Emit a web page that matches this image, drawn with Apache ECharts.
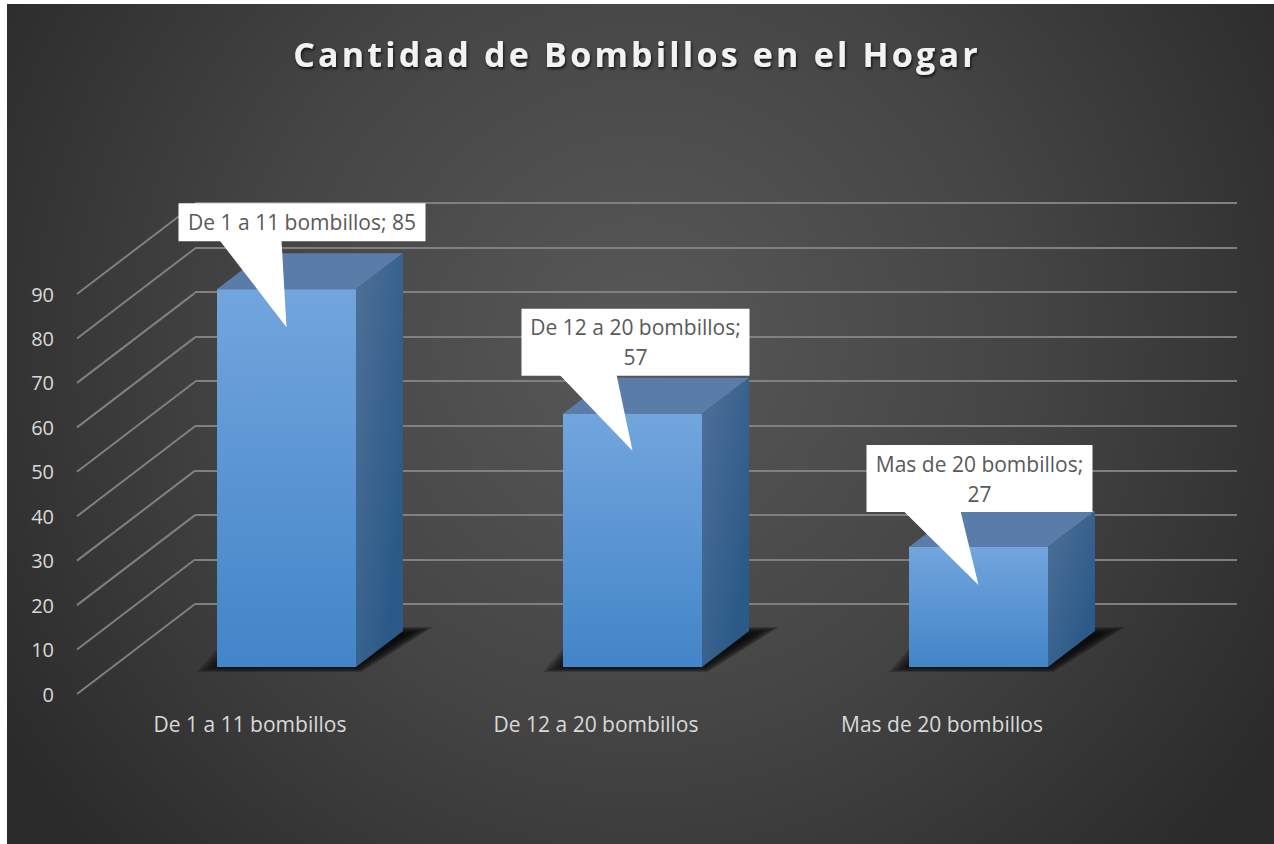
<!DOCTYPE html>
<html>
<head>
<meta charset="utf-8">
<title>Cantidad de Bombillos en el Hogar</title>
<script src="https://cdn.jsdelivr.net/npm/echarts@6/dist/echarts.min.js"></script>
<style>
  html, body { margin: 0; padding: 0; background: #fff; }
  #chart { width: 1274px; height: 844px; }
</style>
</head>
<body>
<div id="chart"></div>
<script>
const titleText = 'Cantidad de Bombillos en el Hogar'
const categories = ['De 1 a 11 bombillos', 'De 12 a 20 bombillos', 'Mas de 20 bombillos']
const values = [85, 57, 27]
const yTicks = [0, 10, 20, 30, 40, 50, 60, 70, 80, 90]

const FONT = '"Open Sans", sans-serif'
const FLOOR = { dx: 118, dy: -90 }     // frente -> pared del fondo
const BAR = { dx: 36.5, dy: -27, w: 139, depthX: 47, depthY: -36 }
// globos: caja y base de la punta, relativas a la punta
const CALLOUT = [
  { tipY: 38, l: -108, r: 139, t: -124, b: -86, p0: -67, p1: -5, wrap: false },
  { tipY: 37, l: -111, r: 117, t: -142, b: -75, p0: -73, p1: -16, wrap: true },
  { tipY: 38, l: -112, r: 114, t: -140, b: -73, p0: -75, p1: -18, wrap: true },
]

const vgrad = (a, b) => ({ type: 'linear', x: 0, y: 0, x2: 0, y2: 1, colorStops: [{ offset: 0, color: a }, { offset: 1, color: b }] })

function renderDiagonal(params, api) {
  const p = api.coord([0, api.value(0)])
  const x = params.coordSys.x
  return {
    type: 'line',
    shape: { x1: x, y1: p[1], x2: x + FLOOR.dx, y2: p[1] + FLOOR.dy },
    style: { stroke: '#808080', lineWidth: 2 },
  }
}

function renderBar(params, api) {
  const base = api.coord([api.value(0), 0])
  const top = api.coord([api.value(0), api.value(1)])
  const x0 = base[0] + BAR.dx - BAR.w / 2
  const x1 = x0 + BAR.w
  const y0 = base[1] + BAR.dy
  const y1 = top[1] + BAR.dy
  const dx = BAR.depthX
  const dy = BAR.depthY
  const poly = (points, style) => ({ type: 'polygon', shape: { points }, style })
  // sombra del suelo: capas translucidas para que el borde quede difuso
  const shadow = []
  for (let k = 0; k < 9; k++) {
    const s = 28 - k * 3.5
    const v = 5 - k * 0.9
    shadow.push(poly([[x0 - s + 8, y0 + v], [x1 + s * 0.2, y0 + v], [x1 + dx + s + 2, y0 + dy - v + 1], [x0 + dx - s, y0 + dy - v + 1]], {
      fill: 'rgba(10,10,10,0.24)',
    }))
  }
  return {
    type: 'group',
    children: shadow.concat([
      poly([[x0, y1], [x1, y1], [x1 + dx, y1 + dy], [x0 + dx, y1 + dy]], { fill: '#5a7ca8' }),
      poly([[x1, y1], [x1 + dx, y1 + dy], [x1 + dx, y0 + dy], [x1, y0]], {
        fill: { type: 'linear', x: 0, y: 0, x2: 1, y2: 1, colorStops: [{ offset: 0, color: '#4f7098' }, { offset: 0.8, color: '#2b5a88' }, { offset: 1, color: '#2b5a88' }] },
      }),
      poly([[x0, y1], [x1, y1], [x1, y0], [x0, y0]], { fill: vgrad('#72a5dd', '#4285c8') }),
    ]),
  }
}

function renderCallout(params, api) {
  const i = params.dataIndex
  const c = CALLOUT[i]
  const top = api.coord([api.value(0), api.value(1)])
  const tx = top[0] + BAR.dx
  const ty = top[1] + BAR.dy + c.tipY
  const label = categories[i] + ';' + (c.wrap ? '\n' : ' ') + values[i]
  return {
    type: 'group',
    children: [
      { type: 'rect', shape: { x: tx + c.l, y: ty + c.t, width: c.r - c.l, height: c.b - c.t }, style: { fill: '#fff' } },
      { type: 'polygon', shape: { points: [[tx + c.p0, ty + c.b - 1], [tx + c.p1, ty + c.b - 1], [tx, ty]] }, style: { fill: '#fff' } },
      {
        type: 'text',
        x: tx + (c.l + c.r) / 2,
        y: ty + (c.t + c.b) / 2,
        style: { text: label, fill: '#595959', font: '21px ' + FONT, align: 'center', verticalAlign: 'middle', lineHeight: 30 },
      },
    ],
  }
}

const chart = echarts.init(document.getElementById('chart'), null, { renderer: 'svg' })
chart.setOption({
  animation: false,
  graphic: [{
    type: 'rect',
    z: -10,
    shape: { x: 7, y: 4, width: 1267, height: 840 },
    style: {
      fill: {
        type: 'radial', x: 640, y: 340, r: 760, global: true,
        colorStops: [{ offset: 0, color: '#585858' }, { offset: 0.5, color: '#454545' }, { offset: 1, color: '#2a2a2a' }],
      },
    },
  }],
  title: {
    text: titleText,
    left: 'center',
    top: 32,
    textStyle: {
      color: '#f2f2f2', fontFamily: FONT, fontSize: 34, fontWeight: 'bold',
      textShadowColor: 'rgba(0,0,0,0.75)', textShadowBlur: 3, textShadowOffsetX: 1, textShadowOffsetY: 2,
    },
  },
  grid: [
    { left: 77, right: 159, top: 294, bottom: 150 },
    { left: 195, right: 37, top: 203, bottom: 240 },
  ],
  xAxis: [
    {
      type: 'category',
      gridIndex: 0,
      data: categories,
      axisLine: { show: false },
      axisTick: { show: false },
      axisLabel: { color: '#d9d9d9', fontFamily: FONT, fontSize: 21, margin: 19 },
    },
    { type: 'value', gridIndex: 1, show: false, min: 0, max: 1 },
  ],
  yAxis: [
    {
      type: 'value',
      gridIndex: 0,
      min: 0,
      max: 90,
      interval: 10,
      axisLine: { show: false },
      axisTick: { show: false },
      splitLine: { show: false },
      axisLabel: { color: '#d9d9d9', fontFamily: FONT, fontSize: 20, margin: 23 },
    },
    {
      type: 'value',
      gridIndex: 1,
      min: 0,
      max: 90,
      interval: 10,
      axisLine: { show: false },
      axisTick: { show: false },
      axisLabel: { show: false },
      splitLine: { show: true, lineStyle: { color: '#808080', width: 2 } },
    },
  ],
  series: [
    { type: 'custom', xAxisIndex: 0, yAxisIndex: 0, z: 1, clip: false, silent: true, data: yTicks.map((v) => [v]), encode: { y: 0 }, renderItem: renderDiagonal },
    { type: 'custom', xAxisIndex: 0, yAxisIndex: 0, z: 2, clip: false, data: values.map((v, i) => [i, v]), renderItem: renderBar },
    { type: 'custom', xAxisIndex: 0, yAxisIndex: 0, z: 3, clip: false, data: values.map((v, i) => [i, v]), renderItem: renderCallout },
  ],
})

// zrender no tiene letter-spacing: se aplica al texto del titulo en el svg
document.querySelectorAll('#chart svg text').forEach((t) => {
  if (t.textContent === titleText) t.setAttribute('letter-spacing', '3.2')
})
</script>
</body>
</html>
